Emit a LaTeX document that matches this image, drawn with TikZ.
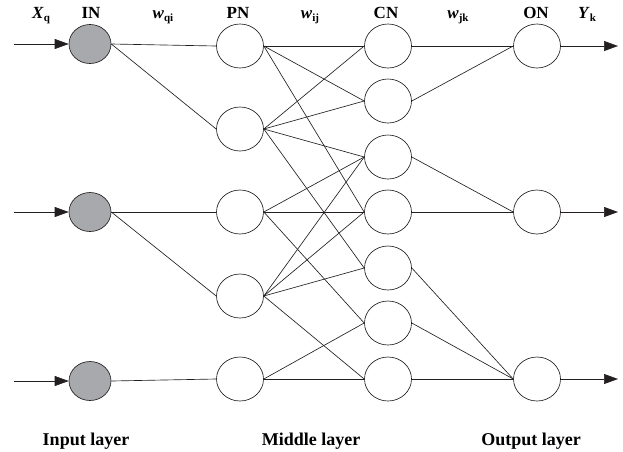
\documentclass[tikz,border=0pt]{standalone}
\usepackage{fontspec}
\setmainfont{Liberation Serif}
\usetikzlibrary{arrows.meta,shapes.geometric}
\definecolor{linec}{HTML}{231F20}
\definecolor{ingray}{HTML}{A7A9AC}
\newcommand\lowsub[1]{\raisebox{-0.4ex}{\fontsize{11}{12}\selectfont #1}}
\tikzset{
  neuron/.style={draw=linec, line width=0.65pt, ellipse, minimum width=47pt, minimum height=44pt, inner sep=0pt, fill=white},
  inneuron/.style={neuron, fill=ingray, minimum width=42pt, minimum height=39pt},
  link/.style={draw=linec, line width=0.65pt},
  io/.style={link, -{Triangle[length=14pt,width=10pt]}},
  lbl/.style={font=\fontsize{17}{20}\selectfont\bfseries, anchor=base, inner sep=0pt},
  botlbl/.style={lbl, font=\fontsize{18}{21}\selectfont\bfseries},
}
\begin{document}
\begin{tikzpicture}[x=1pt,y=1pt]
\useasboundingbox (0,0) rectangle (623,-451);
% input layer
\node[inneuron] (in1) at (90,-44) {};
\node[inneuron] (in2) at (90,-212) {};
\node[inneuron] (in3) at (90,-381) {};
% PN
\node[neuron] (p1) at (240,-46) {};
\node[neuron] (p2) at (240,-129) {};
\node[neuron] (p3) at (240,-212) {};
\node[neuron] (p4) at (240,-296) {};
\node[neuron] (p5) at (240,-379) {};
% CN
\node[neuron] (c1) at (388,-46) {};
\node[neuron] (c2) at (388,-101) {};
\node[neuron] (c3) at (388,-157) {};
\node[neuron] (c4) at (388,-212) {};
\node[neuron] (c5) at (388,-268) {};
\node[neuron] (c6) at (388,-323) {};
\node[neuron] (c7) at (388,-379) {};
% ON
\node[neuron] (o1) at (537,-46) {};
\node[neuron] (o2) at (537,-212) {};
\node[neuron] (o3) at (537,-379) {};
% input arrows
\coordinate (x1) at (14,-44);
\coordinate (x2) at (14,-212);
\coordinate (x3) at (14,-381);
\draw[io] (x1) -- (in1.west);
\draw[io] (x2) -- (in2.west);
\draw[io] (x3) -- (in3.west);
% output arrows
\coordinate (y1) at (618,-46);
\coordinate (y2) at (618,-212);
\coordinate (y3) at (618,-379);
\draw[io] (o1.east) -- (y1);
\draw[io] (o2.east) -- (y2);
\draw[io] (o3.east) -- (y3);
% IN -> PN
\foreach \a/\b in {in1/p1, in1/p2, in2/p3, in2/p4, in3/p5}
  \draw[link] (\a.east) -- (\b.west);
% PN -> CN
\foreach \a/\b in {p1/c1, p1/c2, p1/c4,
                   p2/c1, p2/c2, p2/c3, p2/c5,
                   p3/c3, p3/c4, p3/c6,
                   p4/c3, p4/c4, p4/c5, p4/c7,
                   p5/c6, p5/c7}
  \draw[link] (\a.east) -- (\b.west);
% CN -> ON
\foreach \a/\b in {c1/o1, c2/o1, c3/o2, c4/o2, c5/o3, c6/o3, c7/o3}
  \draw[link] (\a.east) -- (\b.west);
% top labels
\node[lbl] (lx) at (41,-18) {\textit{X}\lowsub{q}};
\node[lbl] (lin) at (91,-18) {IN};
\node[lbl] (lwqi) at (163,-18) {\textit{w}\lowsub{qi}};
\node[lbl] (lpn) at (238,-18) {PN};
\node[lbl] (lwij) at (310,-18) {\textit{w}\lowsub{ij}};
\node[lbl] (lcn) at (386,-18) {CN};
\node[lbl] (lwjk) at (458,-18) {\textit{w}\lowsub{jk}};
\node[lbl] (lon) at (536,-18) {ON};
\node[lbl] (ly) at (587,-18) {\textit{Y}\lowsub{k}};
% bottom labels
\node[botlbl] (bl1) at (86,-445) {Input layer};
\node[botlbl] (bl2) at (311,-445) {Middle layer};
\node[botlbl] (bl3) at (531,-445) {Output layer};
\end{tikzpicture}
\end{document}
